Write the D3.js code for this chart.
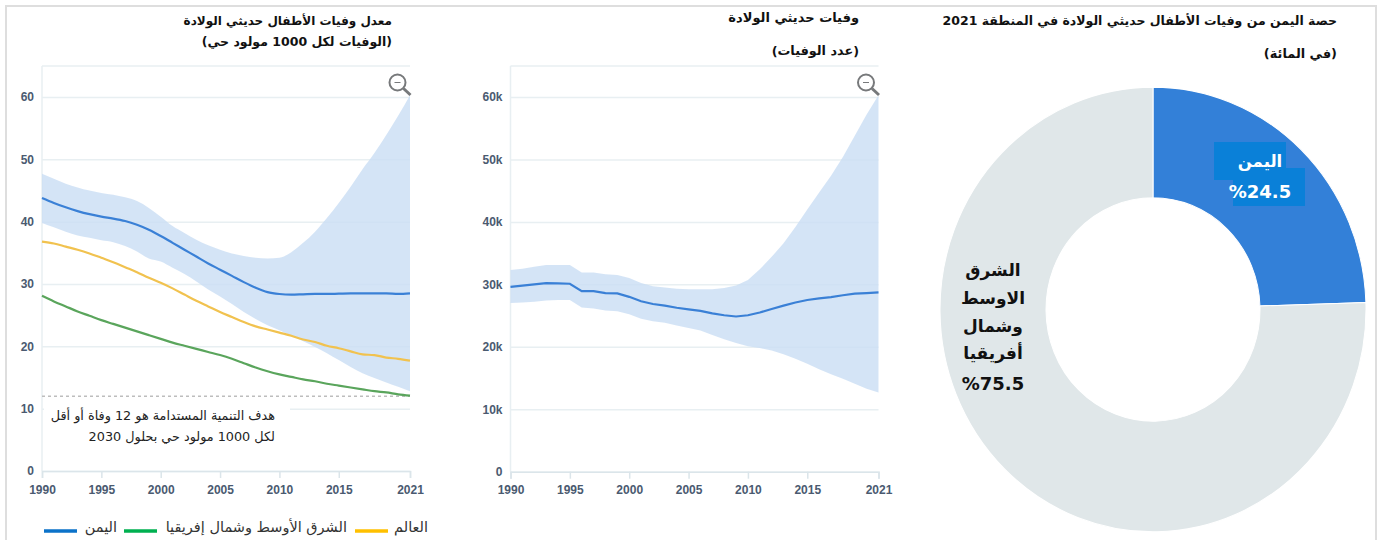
<!DOCTYPE html>
<html>
<head>
<meta charset="utf-8">
<script src="https://d3js.org/d3.v7.min.js"></script>
<style>
    html, body { margin: 0; padding: 0; background: #fff; overflow: hidden; }
    svg { display: block; }
    text { font-family: "DejaVu Sans", sans-serif; }
    .tick text { font-family: "Liberation Sans", sans-serif; font-size: 12px; font-weight: bold; fill: #4a5a70; }
    .rtl { direction: rtl; text-anchor: start; }
</style>
</head>
<body>
<svg id="chart" width="1377" height="540"></svg>
<script>
const years = d3.range(1990, 2022);
const yearTicks = [1990, 1995, 2000, 2005, 2010, 2015, 2021];
const rateTicks = [0, 10, 20, 30, 40, 50, 60];
const countTicks = [0, 10000, 20000, 30000, 40000, 50000, 60000];

// Neonatal mortality rate (deaths per 1000 live births)
const rateYemen = [43.8, 43.0, 42.3, 41.7, 41.2, 40.8, 40.5, 40.1, 39.5, 38.7, 37.7, 36.6, 35.5, 34.4, 33.3, 32.3, 31.3, 30.3, 29.4, 28.7, 28.4, 28.3, 28.35, 28.4, 28.4, 28.45, 28.5, 28.5, 28.5, 28.5, 28.4, 28.5];
const rateUpper = [47.7, 46.9, 46.1, 45.5, 45.0, 44.6, 44.3, 43.9, 43.3, 42.2, 40.8, 39.3, 38.2, 37.1, 36.2, 35.5, 34.9, 34.5, 34.2, 34.1, 34.2, 35.1, 36.6, 38.4, 40.6, 43.0, 45.6, 48.4, 51.0, 53.9, 57.0, 60.3];
const rateLower = [39.8, 39.1, 38.4, 37.8, 37.4, 37.0, 36.7, 36.1, 35.2, 34.1, 33.6, 32.6, 31.6, 30.4, 29.1, 28.0, 26.8, 25.5, 24.4, 23.4, 22.6, 21.7, 20.8, 19.9, 18.9, 17.8, 16.7, 15.7, 14.9, 14.2, 13.5, 12.8];
const rateWorld = [36.8, 36.5, 36.0, 35.5, 34.9, 34.2, 33.5, 32.7, 31.9, 31.0, 30.2, 29.3, 28.3, 27.3, 26.4, 25.5, 24.7, 23.9, 23.2, 22.7, 22.2, 21.7, 21.1, 20.7, 20.1, 19.7, 19.2, 18.7, 18.6, 18.2, 18.0, 17.7];
const rateMena = [28.1, 27.2, 26.4, 25.6, 24.9, 24.2, 23.6, 23.0, 22.4, 21.8, 21.2, 20.6, 20.1, 19.6, 19.1, 18.6, 18.0, 17.3, 16.6, 16.0, 15.5, 15.1, 14.7, 14.4, 14.0, 13.7, 13.4, 13.1, 12.8, 12.6, 12.3, 12.1];
const sdgTarget = 12;

// Neonatal deaths (number of deaths)
const countYemen = [29600, 29800, 30000, 30200, 30150, 30100, 28900, 28900, 28600, 28550, 28000, 27300, 26850, 26600, 26250, 26000, 25750, 25350, 25050, 24850, 25050, 25500, 26050, 26600, 27100, 27500, 27750, 27950, 28250, 28500, 28600, 28700];
const countUpper = [32300, 32500, 32800, 33100, 33100, 33100, 31900, 31900, 31600, 31500, 31000, 30200, 29700, 29500, 29300, 29200, 29200, 29200, 29400, 29800, 30700, 32400, 34400, 36600, 39200, 42000, 44700, 47400, 50400, 53800, 57200, 60300];
const countLower = [27000, 27100, 27200, 27400, 27500, 27500, 26300, 26150, 25800, 25700, 25200, 24500, 24100, 23850, 23400, 23000, 22600, 21900, 21200, 20600, 20100, 19800, 19400, 18800, 18100, 17300, 16400, 15600, 14900, 14100, 13300, 12700];

// Share of the region in 2021 (percent)
const shareNames = ['اليمن', 'الشرق الاوسط وشمال أفريقيا'];
const shareValues = [24.5, 75.5];

const BLUE = '#3a80d6', GREEN = '#5aa55c', YELLOW = '#f1c24f', BAND = '#c9ddf4';

const svg = d3.select('#chart');

// Outer frame
svg.append('path')
    .attr('d', 'M6,540V6H1376V540')
    .attr('fill', 'none')
    .attr('stroke', '#dedede')
    .attr('stroke-width', 2);

function title(x, y, str, size) {
    svg.append('text')
        .attr('class', 'rtl')
        .attr('x', x)
        .attr('y', y)
        .attr('font-size', size)
        .attr('font-weight', 'bold')
        .attr('fill', '#111')
        .text(str);
}

// Shared plot frame: grid, year axis, value axis, shaded band
function drawPanel(opts) {
    const x = d3.scaleLinear().domain([1990, 2021]).range(opts.xRange);
    const y = d3.scaleLinear().domain([0, 60]).range([opts.y0, 97]);
    if (opts.count) y.domain([0, 60000]);
    const g = svg.append('g');

    // Horizontal grid and labels
    const yAxis = d3.axisLeft(y)
        .tickValues(opts.yTicks)
        .tickSize(opts.xRange[0] - opts.xRange[1])
        .tickPadding(8)
        .tickFormat(opts.format);
    g.append('g')
        .attr('transform', `translate(${opts.xRange[0]},0)`)
        .call(yAxis)
        .call(a => a.select('.domain').remove())
        .call(a => a.selectAll('line').attr('stroke', '#e8eff2').attr('stroke-width', 1.5));

    // Top edge and left axis line
    g.append('line')
        .attr('x1', opts.xRange[0]).attr('x2', opts.xRange[1])
        .attr('y1', 66).attr('y2', 66)
        .attr('stroke', '#eef3f5').attr('stroke-width', 2);
    g.append('line')
        .attr('x1', opts.xRange[0]).attr('x2', opts.xRange[0])
        .attr('y1', 66).attr('y2', opts.y0)
        .attr('stroke', '#e8eff2').attr('stroke-width', 1.5);

    const xAxis = d3.axisBottom(x)
        .tickValues(yearTicks)
        .tickSize(7)
        .tickPadding(7)
        .tickFormat(d3.format('d'));
    g.append('g')
        .attr('transform', `translate(0,${opts.y0})`)
        .call(xAxis)
        .call(a => a.selectAll('line, .domain').attr('stroke', '#dbe5ea').attr('stroke-width', 1.5));

    // Uncertainty band
    const band = d3.area()
        .x((d, i) => x(years[i]))
        .y0((d, i) => y(opts.lower[i]))
        .y1(d => y(d))
        .curve(opts.curve);
    g.append('path')
        .datum(opts.upper)
        .attr('fill', BAND)
        .attr('fill-opacity', 0.8)
        .attr('d', band);

    // Zoom-out icon in the top right corner
    const icon = g.append('g')
        .attr('transform', `translate(${opts.xRange[1] - 12.5},82.5)`)
        .attr('fill', 'none')
        .attr('stroke', '#77797b');
    icon.append('circle').attr('r', 8).attr('stroke-width', 2);
    icon.append('line').attr('x1', 6).attr('y1', 6).attr('x2', 13).attr('y2', 12.5).attr('stroke-width', 3);
    icon.append('line').attr('x1', -3).attr('x2', 3).attr('stroke-width', 1);

    return { x, y, g };
}

function seriesLine(panel, values, color, curve) {
    const line = d3.line()
        .x((d, i) => panel.x(years[i]))
        .y(d => panel.y(d))
        .curve(curve);
    panel.g.append('path')
        .datum(values)
        .attr('fill', 'none')
        .attr('stroke', color)
        .attr('stroke-width', 2.2)
        .attr('d', line);
}

// Left panel: rate
const left = drawPanel({
    xRange: [42, 410], y0: 471, yTicks: rateTicks, format: d3.format('d'),
    upper: rateUpper, lower: rateLower, curve: d3.curveMonotoneX
});

left.g.append('line')
    .attr('x1', left.x(1990)).attr('x2', left.x(2021))
    .attr('y1', left.y(sdgTarget)).attr('y2', left.y(sdgTarget))
    .attr('stroke', '#bdbdbd')
    .attr('stroke-width', 1.5)
    .attr('stroke-dasharray', '3 3');

seriesLine(left, rateMena, GREEN, d3.curveMonotoneX);
seriesLine(left, rateWorld, YELLOW, d3.curveMonotoneX);
seriesLine(left, rateYemen, BLUE, d3.curveMonotoneX);

// White box behind the target note
svg.append('rect')
    .attr('x', 44).attr('y', 400)
    .attr('width', 246).attr('height', 48)
    .attr('fill', '#fff');

title(392, 25, 'معدل وفيات الأطفال حديثي الولادة', 12);
title(392, 46, '(الوفيات لكل 1000 مولود حي)', 12.5);

svg.append('text').attr('class', 'rtl').attr('x', 275).attr('y', 420)
    .attr('font-size', 12.8).attr('fill', '#222')
    .text('هدف التنمية المستدامة هو 12 وفاة أو أقل');
svg.append('text').attr('class', 'rtl').attr('x', 275).attr('y', 441)
    .attr('font-size', 12.8).attr('fill', '#222')
    .text('لكل 1000 مولود حي بحلول 2030');

// Legend
const legendNames = ['اليمن', 'الشرق الأوسط وشمال إفريقيا', 'العالم'];
const legendColors = ['#0b72c9', '#00b050', '#ffc000'];
const legendSwatch = [44, 124, 355];
const legendRight = [117, 347, 428];
legendNames.forEach((name, i) => {
    svg.append('line')
        .attr('x1', legendSwatch[i]).attr('x2', legendSwatch[i] + 33)
        .attr('y1', 531).attr('y2', 531)
        .attr('stroke', legendColors[i]).attr('stroke-width', 3.5);
    svg.append('text').attr('class', 'rtl')
        .attr('x', legendRight[i]).attr('y', 532)
        .attr('font-size', 14.5).attr('fill', '#333')
        .text(name);
});

// Middle panel: number of deaths
const middle = drawPanel({
    xRange: [510.5, 878.5], y0: 471.7, yTicks: countTicks, count: true,
    format: d => d === 0 ? '0' : (d / 1000) + 'k',
    upper: countUpper, lower: countLower, curve: d3.curveLinear
});
seriesLine(middle, countYemen, BLUE, d3.curveLinear);

title(859, 22, 'وفيات حديثي الولادة', 13);
title(859, 55, '(عدد الوفيات)', 12.8);

// Right panel: donut (drawn slightly taller than wide, as in the source)
title(1337, 25, 'حصة اليمن من وفيات الأطفال حديثي الولادة في المنطقة 2021', 12.5);
title(1337, 58, '(في المائة)', 12.9);

const pie = d3.pie().sort(null)(shareValues);
const arc = d3.arc().innerRadius(107).outerRadius(213);
const donut = svg.append('g')
    .attr('transform', 'translate(1153,309.5) scale(1,1.044)');
donut.selectAll('path')
    .data(pie)
    .join('path')
    .attr('d', arc)
    .attr('fill', (d, i) => ['#3380d8', '#e0e7e9'][i])
    .attr('stroke', '#fff')
    .attr('stroke-width', 1);

// Donut labels
svg.append('rect').attr('x', 1214).attr('y', 142).attr('width', 72).attr('height', 38).attr('fill', '#0a80d8');
svg.append('rect').attr('x', 1233).attr('y', 168).attr('width', 72).attr('height', 38).attr('fill', '#0a80d8');

function donutLabel(cx, cy, str, color, size) {
    svg.append('text')
        .attr('x', cx).attr('y', cy)
        .attr('text-anchor', 'middle')
        .attr('dominant-baseline', 'central')
        .attr('font-size', size)
        .attr('font-weight', 'bold')
        .attr('fill', color)
        .text(str);
}
donutLabel(1260, 161, shareNames[0], '#fff', 16.5);
donutLabel(1260, 191, '%' + shareValues[0], '#fff', 18);
['الشرق', 'الاوسط', 'وشمال', 'أفريقيا'].forEach((w, i) => {
    donutLabel(993, [270, 298, 326, 353][i], w, '#111', 17);
});
donutLabel(993, 383, '%' + shareValues[1], '#111', 18);
</script>
</body>
</html>
